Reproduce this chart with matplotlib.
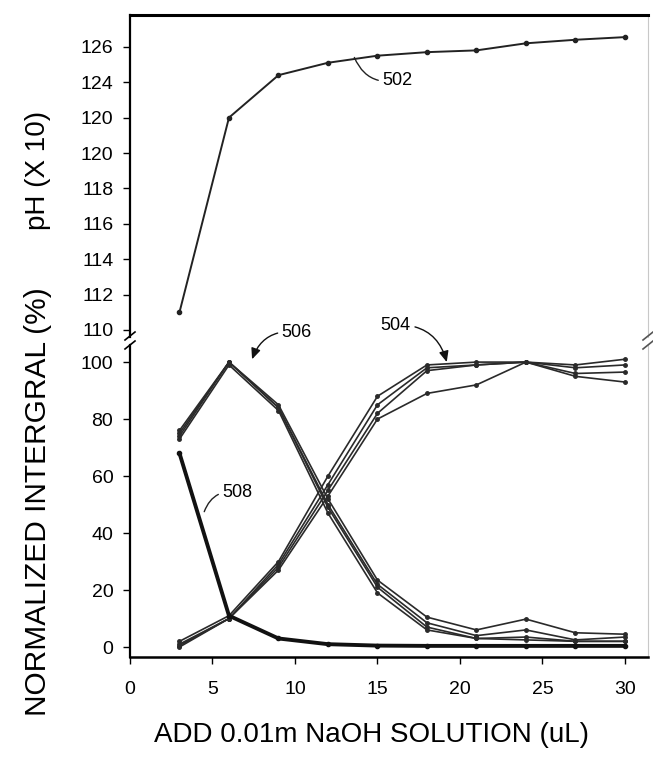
import matplotlib
matplotlib.use("Agg")
import matplotlib.pyplot as plt
from matplotlib.lines import Line2D

plt.rcParams['font.family'] = ['Liberation Sans', 'DejaVu Sans']

# ---------------- data ----------------
naoh_ul = [3, 6, 9, 12, 15, 18, 21, 24, 27, 30]
ph_x10 = [111.0, 122.0, 124.4, 125.1, 125.5, 125.7, 125.8, 126.2, 126.4, 126.55]

curve_504_a = [2.0, 11, 30, 60, 88, 99, 100, 100, 99, 101]
curve_504_b = [1.0, 10, 29, 57, 85, 98, 99, 100, 98, 99]
curve_504_c = [0.5, 10, 28, 55, 82, 97, 99, 100, 96, 96.5]
curve_504_d = [0.0, 10, 27, 53, 80, 89, 92, 100, 95, 93]

curve_506_a = [76, 100, 85, 52, 23.5, 10.5, 6, 9.8, 5, 4.5]
curve_506_b = [75, 100, 84, 50, 22, 8.5, 4, 6, 2.5, 3.5]
curve_506_c = [74, 100, 84, 49, 21, 7, 3, 3.5, 2, 2]
curve_506_d = [73, 99, 83, 47, 19, 6, 3, 2.5, 2, 2]

curve_508 = [68, 11, 3, 1, 0.5, 0.4, 0.4, 0.4, 0.4, 0.4]

ph_ticks = [110, 112, 114, 116, 118, 120, 122, 124, 126]
ph_tick_labels = ['110', '112', '114', '116', '118', '120', '120', '124', '126']
int_ticks = [0, 20, 40, 60, 80, 100]
x_ticks = [0, 5, 10, 15, 20, 25, 30]

# ---------------- figure ----------------
W, H = 653, 757
fig = plt.figure(figsize=(W / 100, H / 100), dpi=100)

def fx(px):
    return px / W

def fy(py):
    return 1 - py / H

L, R = 130, 648
ax_top = fig.add_axes([fx(L), fy(337), fx(R) - fx(L), fy(15) - fy(337)])
ax_bot = fig.add_axes([fx(L), fy(657), fx(R) - fx(L), fy(345) - fy(657)])

for ax in (ax_top, ax_bot):
    ax.set_xlim(0, 31.4)
    ax.tick_params(direction='out', length=5, width=1.0, labelsize=14, colors='black')
    ax.tick_params(axis='y', pad=7)
    ax.spines['left'].set_linewidth(1.6)
    ax.spines['right'].set_linewidth(0.8)
    ax.spines['right'].set_color('#c8c8c8')

ax_top.set_ylim(109.6, 127.8)
ax_top.spines['bottom'].set_visible(False)
ax_top.spines['top'].set_linewidth(2.2)
ax_top.set_xticks([])
ax_top.set_yticks(ph_ticks)
ax_top.set_yticklabels(ph_tick_labels)

ax_bot.set_ylim(-3.5, 106)
ax_bot.spines['top'].set_visible(False)
ax_bot.spines['bottom'].set_linewidth(1.8)
ax_bot.set_yticks(int_ticks)
ax_bot.set_xticks(x_ticks)
ax_bot.tick_params(axis='x', pad=12)

# pH curve
ax_top.plot(naoh_ul, ph_x10, color='#222222', lw=1.4, marker='o', ms=3)

# normalized integral curves
for c in (curve_504_a, curve_504_b, curve_504_c, curve_504_d):
    ax_bot.plot(naoh_ul, c, color='#2a2a2a', lw=1.2, marker='o', ms=2.5)
for c in (curve_506_a, curve_506_b, curve_506_c, curve_506_d):
    ax_bot.plot(naoh_ul, c, color='#2a2a2a', lw=1.2, marker='o', ms=2.5)
ax_bot.plot(naoh_ul, curve_508, color='#111111', lw=2.8, marker='o', ms=3)

# annotations
fs_ann = 13
ax_top.annotate('502', xy=(13.6, 125.4), xytext=(15.3, 124.1), fontsize=fs_ann,
                va='center', ha='left',
                arrowprops=dict(arrowstyle='-', lw=1.0, color='#222222',
                                connectionstyle='arc3,rad=-0.4', shrinkA=1, shrinkB=0))
ax_bot.annotate('506', xy=(7.4, 101.0), xytext=(9.2, 110.5), fontsize=fs_ann,
                va='center', ha='left', annotation_clip=False,
                arrowprops=dict(arrowstyle='-|>,head_length=0.5,head_width=0.22', lw=1.0,
                                color='#111111', connectionstyle='arc3,rad=0.4',
                                shrinkA=1, shrinkB=0))
ax_bot.annotate('504', xy=(19.2, 100.0), xytext=(15.2, 113.0), fontsize=fs_ann,
                va='center', ha='left', annotation_clip=False,
                arrowprops=dict(arrowstyle='-|>,head_length=0.5,head_width=0.22', lw=1.0,
                                color='#111111', connectionstyle='arc3,rad=-0.4',
                                shrinkA=1, shrinkB=0))
ax_bot.annotate('508', xy=(4.5, 47.5), xytext=(5.6, 54.4), fontsize=fs_ann,
                va='center', ha='left',
                arrowprops=dict(arrowstyle='-', lw=1.0, color='#222222',
                                connectionstyle='arc3,rad=0.4', shrinkA=1, shrinkB=0))

# axis break marks
for (bx, col) in ((L, 'black'), (R, '#555555')):
    for by in (336, 345):
        fig.add_artist(Line2D([fx(bx - 5), fx(bx + 5)], [fy(by + 4), fy(by - 4)],
                              color=col, lw=1.2, transform=fig.transFigure))

# labels
fig.text(fx(38), fy(170), 'pH (X 10)', rotation=90, ha='center', va='center', fontsize=20)
fig.text(fx(38), fy(502), 'NORMALIZED INTERGRAL (%)', rotation=90, ha='center',
         va='center', fontsize=21.5)
fig.text(fx(372), fy(735), 'ADD 0.01m NaOH SOLUTION (uL)', ha='center', va='center',
         fontsize=20)

fig.savefig('out.png', dpi=100)
